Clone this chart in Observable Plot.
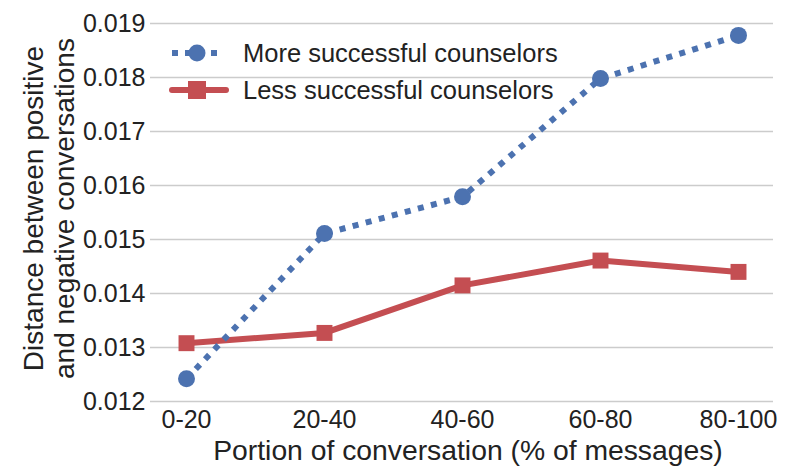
<!DOCTYPE html>
<html>
<head>
<meta charset="utf-8">
<script src="https://cdn.jsdelivr.net/npm/d3@7"></script>
<script src="https://cdn.jsdelivr.net/npm/@observablehq/plot@0.6"></script>
<style>
  html, body { margin: 0; padding: 0; background: #fff; }
  #wrap { position: relative; width: 789px; height: 473px; }
  #legend { position: absolute; left: 0; top: 0; }
  svg { font-family: "Liberation Sans", Arial, sans-serif; }
</style>
</head>
<body>
<div id="wrap"></div>
<script>
const categories = ["0-20", "20-40", "40-60", "60-80", "80-100"];
const moreSuccessful = [0.01242, 0.01511, 0.01579, 0.01798, 0.01878];
const lessSuccessful = [0.01308, 0.01327, 0.01415, 0.01461, 0.01440];
const yTicks = [0.012, 0.013, 0.014, 0.015, 0.016, 0.017, 0.018, 0.019];
const seriesNames = ["More successful counselors", "Less successful counselors"];
const xLabel = "Portion of conversation (% of messages)";
const yLabel = "Distance between positive\nand negative conversations";

const blue = "#4c72b0", red = "#c44e52", textColor = "#222222", gridColor = "#cccccc";

const more = categories.map((c, i) => ({cat: c, v: moreSuccessful[i]}));
const less = categories.map((c, i) => ({cat: c, v: lessSuccessful[i]}));

const chart = Plot.plot({
  width: 789,
  height: 473,
  marginLeft: 150,
  marginRight: 16,
  marginTop: 23,
  marginBottom: 72,
  style: {fontFamily: '"Liberation Sans", Arial, sans-serif', color: textColor, background: "#fff"},
  x: {type: "point", domain: categories, padding: 0.253},
  y: {domain: [0.012, 0.019]},
  marks: [
    Plot.gridY(yTicks, {stroke: gridColor, strokeOpacity: 1, strokeWidth: 1.3}),
    Plot.axisY(yTicks, {tickSize: 0, tickPadding: 5, fontSize: 25, tickFormat: d3.format(".3f"), fill: textColor, label: null}),
    Plot.axisX({tickSize: 0, tickPadding: 9, fontSize: 25, fill: textColor, label: null}),
    Plot.text([xLabel], {frameAnchor: "bottom", dx: 6, dy: 58, fontSize: 28.3, fill: textColor, lineAnchor: "bottom", text: d => d}),
    Plot.text([yLabel], {frameAnchor: "left", textAnchor: "middle", rotate: -90, dx: -102, dy: -4, fontSize: 28, lineHeight: 1.1, fill: textColor, text: d => d}),
    Plot.line(less, {x: "cat", y: "v", stroke: red, strokeWidth: 6}),
    Plot.dot(less, {x: "cat", y: "v", symbol: "square", r: 9, fill: red, stroke: null}),
    Plot.line(more, {x: "cat", y: "v", stroke: blue, strokeWidth: 6, strokeDasharray: "6,7.5", strokeLinecap: "butt"}),
    Plot.dot(more, {x: "cat", y: "v", r: 8.5, fill: blue, stroke: null})
  ]
});
document.getElementById("wrap").appendChild(chart);

// Legend overlay
const leg = d3.select("#wrap").append("svg")
  .attr("id", "legend").attr("width", 789).attr("height", 473)
  .style("pointer-events", "none");
const rows = [
  {name: seriesNames[0], color: blue, dash: "6,7", symbol: "circle", y: 53},
  {name: seriesNames[1], color: red, dash: null, symbol: "square", y: 90}
];
rows.forEach(r => {
  const g = leg.append("g");
  g.append("line").attr("x1", 172).attr("x2", r.dash ? 220 : 226).attr("y1", r.y).attr("y2", r.y)
    .attr("stroke", r.color).attr("stroke-width", 6)
    .attr("stroke-dasharray", r.dash)
    .attr("stroke-linecap", r.dash ? "butt" : "round");
  if (r.symbol === "circle") {
    g.append("circle").attr("cx", 197).attr("cy", r.y).attr("r", 8.5).attr("fill", r.color);
  } else {
    g.append("rect").attr("x", 188).attr("y", r.y - 9).attr("width", 18).attr("height", 18).attr("fill", r.color);
  }
  g.append("text").attr("x", 243).attr("y", r.y).attr("dy", "0.35em")
    .attr("font-size", 25.5).attr("fill", textColor).text(r.name);
});
</script>
</body>
</html>
